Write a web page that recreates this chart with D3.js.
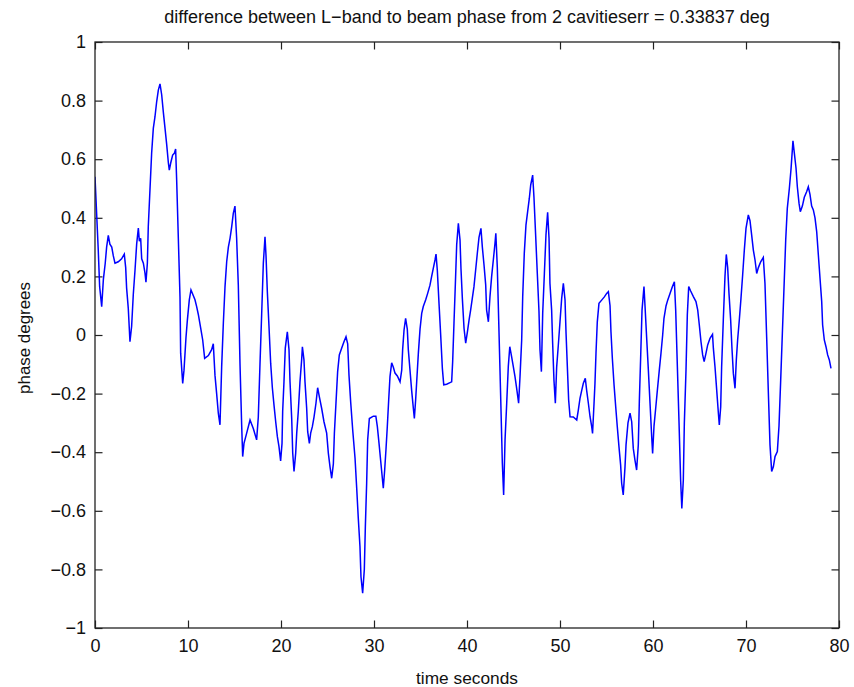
<!DOCTYPE html>
<html>
<head>
<meta charset="utf-8">
<script src="https://cdn.jsdelivr.net/npm/d3@7"></script>
<style>
  html, body { margin: 0; padding: 0; background: #ffffff; }
  svg { display: block; }
  text { font-family: "Liberation Sans", Arial, Helvetica, sans-serif; fill: #111; }
</style>
</head>
<body>
<svg id="chart" width="854" height="687"></svg>
<script>
// ---- data ----
const titleText = "difference between L\u2212band to beam phase from 2 cavitieserr = 0.33837 deg";
const xLabelText = "time seconds";
const yLabelText = "phase degrees";

const xTicks = [0, 10, 20, 30, 40, 50, 60, 70, 80];
const xTickLabels = ["0", "10", "20", "30", "40", "50", "60", "70", "80"];
const yTicks = [-1, -0.8, -0.6, -0.4, -0.2, 0, 0.2, 0.4, 0.6, 0.8, 1];
const yTickLabels = ["\u22121", "\u22120.8", "\u22120.6", "\u22120.4", "\u22120.2", "0", "0.2", "0.4", "0.6", "0.8", "1"];

const times = [
  0, 0.35, 0.5, 0.72, 0.9, 1.1, 1.25, 1.43, 1.6, 1.8, 1.97, 2.15, 2.5, 2.86, 3.15, 3.3, 3.4, 3.58, 3.76, 3.94,
  4.12, 4.3, 4.48, 4.66, 4.77, 4.91, 5.02, 5.2, 5.38, 5.48, 5.63, 5.73, 5.91, 6.09, 6.27, 6.45, 6.63, 6.81, 6.99, 7.17,
  7.35, 7.53, 7.71, 7.89, 7.99, 8.14, 8.35, 8.53, 8.67, 8.78, 8.96, 9.14, 9.21, 9.43, 9.57, 9.78, 9.93, 10.14, 10.32, 10.5,
  10.75, 10.93, 11.11, 11.36, 11.58, 11.79, 12.19, 12.54, 12.72, 12.9, 13.08, 13.26, 13.44, 13.62, 13.8, 13.98, 14.16, 14.34, 14.52, 14.7,
  14.87, 15.05, 15.23, 15.41, 15.59, 15.77, 15.88, 16.02, 16.31, 16.67, 17.03, 17.38, 17.56, 17.74, 17.92, 18.1, 18.28,
  18.39, 18.53, 18.71, 18.89, 19.07, 19.25, 19.43, 19.61, 19.78, 19.96, 20.11, 20.18, 20.32, 20.46, 20.68, 20.86, 20.97, 21.15, 21.26, 21.4,
  21.58, 21.69, 21.86, 22.04, 22.22, 22.3, 22.47, 22.58, 22.76, 22.87, 23.05, 23.19, 23.37, 23.55, 23.76, 23.94, 24.12, 24.37, 24.62, 24.91,
  25.09, 25.27, 25.45, 25.63, 25.74, 25.91, 26.09, 26.27, 26.52, 26.77, 26.99, 27.17, 27.31, 27.49, 27.71, 27.96, 28.14, 28.31, 28.49, 28.6,
  28.78, 28.96, 29.07, 29.21, 29.32, 29.5, 29.93, 30.2, 30.36, 30.54, 30.72, 31.0, 31.15, 31.29, 31.43, 31.58, 31.72, 31.9, 32.08, 32.26,
  32.51, 32.8, 32.98, 33.08, 33.23, 33.4, 33.58, 33.69, 33.87, 34.05, 34.23, 34.34, 34.48, 34.59, 34.77, 34.95, 35.13, 35.3, 35.56, 35.77,
  36.02, 36.2, 36.38, 36.56, 36.67, 36.81, 36.99, 37.17, 37.35, 37.5,
  37.81, 38.35, 38.46, 38.6, 38.75, 38.89, 39.07, 39.25, 39.35, 39.5, 39.68, 39.86, 40.04, 40.22, 40.39, 40.57, 40.75, 40.93, 41.11, 41.29,
  41.5, 41.65, 41.83, 42.01, 42.11, 42.3, 42.47, 42.65, 42.83, 43.01, 43.1, 43.26, 43.44, 43.62, 43.8, 43.94, 44.09, 44.27, 44.44, 44.6,
  44.8, 44.98, 45.16, 45.34, 45.55, 45.7, 45.88, 45.99, 46.16, 46.34, 46.52, 46.7, 46.85, 47.06, 47.2, 47.38, 47.56, 47.74, 47.85, 48.0,
  48.14, 48.32, 48.49, 48.67, 48.82, 48.92, 49.1, 49.21, 49.35, 49.5, 49.64, 49.82, 50.0, 50.18, 50.36, 50.54, 50.65, 50.79, 50.93, 51.08,
  51.43, 51.8, 51.97, 52.15, 52.33, 52.51, 52.72, 52.87, 53.05, 53.23, 53.41, 53.5, 53.66, 53.76, 53.87, 54.01, 54.19, 54.48, 54.77, 55.02,
  55.2, 55.38, 55.48, 55.63, 55.81, 55.99, 56.16, 56.34, 56.52, 56.63, 56.8,
  56.99, 57.1, 57.31, 57.53, 57.71, 57.88, 58.06, 58.24, 58.42, 58.53, 58.68, 58.82, 59.03, 59.14, 59.32, 59.5, 59.68, 59.86, 59.96, 60.11,
  60.29, 60.47, 60.68, 60.86, 61.04, 61.18, 61.4, 61.58, 61.83, 62.08, 62.3, 62.44, 62.62, 62.8, 62.97, 63.1, 63.26, 63.37, 63.55, 63.69,
  63.84, 64.05, 64.34, 64.62, 64.81, 64.98, 65.16, 65.34, 65.5, 65.7, 65.88, 66.13, 66.4, 66.49, 66.67, 66.85, 67.03, 67.13, 67.28, 67.38,
  67.56, 67.74, 67.88, 68.03, 68.17, 68.35, 68.49, 68.64, 68.82, 68.96, 69.1, 69.28, 69.46, 69.64, 69.82, 70.0, 70.25, 70.43, 70.61, 70.79,
  70.97, 71.15, 71.33, 71.58, 71.86, 72.04, 72.22, 72.4, 72.58, 72.76, 72.94, 73.12, 73.37, 73.55, 73.73, 73.91, 74.09, 74.27, 74.44, 74.66,
  74.84, 75.05, 75.2, 75.38, 75.52, 75.7, 75.84, 76.06, 76.27, 76.52, 76.7, 76.88, 77.06, 77.24, 77.42, 77.6, 77.78, 77.96, 78.14, 78.24,
  78.42, 78.6, 78.78, 78.96, 79.14
];

const phase = [
  0.54, 0.29, 0.165, 0.097, 0.19, 0.245, 0.30, 0.34, 0.31, 0.30, 0.27, 0.245, 0.25, 0.26, 0.276, 0.23, 0.16, 0.09, -0.023, 0.03,
  0.14, 0.22, 0.31, 0.365, 0.32, 0.33, 0.26, 0.245, 0.21, 0.18, 0.245, 0.37, 0.495, 0.62, 0.705, 0.745, 0.796, 0.836, 0.857, 0.82,
  0.76, 0.705, 0.65, 0.587, 0.563, 0.587, 0.614, 0.62, 0.635, 0.53, 0.33, 0.13, -0.062, -0.165, -0.12, -0.01, 0.05, 0.12, 0.154, 0.14,
  0.12, 0.097, 0.07, 0.024, -0.017, -0.08, -0.07, -0.05, -0.03, -0.137, -0.2, -0.267, -0.307, -0.108, 0.04, 0.165, 0.25, 0.30, 0.33, 0.37,
  0.415, 0.44, 0.33, 0.17, -0.097, -0.307, -0.415, -0.37, -0.335, -0.29, -0.32, -0.358, -0.28, -0.1, 0.07, 0.245, 0.335,
  0.27, 0.148, 0.028, -0.097, -0.18, -0.24, -0.296, -0.347, -0.38, -0.43, -0.37, -0.26, -0.16, -0.045, 0.011, -0.05, -0.16, -0.285, -0.403, -0.466,
  -0.403, -0.335, -0.26, -0.16, -0.085, -0.04, -0.085, -0.16, -0.25, -0.33, -0.37, -0.335, -0.313, -0.28, -0.233, -0.18, -0.21, -0.25, -0.296, -0.335,
  -0.403, -0.45, -0.489, -0.44, -0.335, -0.233, -0.125, -0.068, -0.045, -0.023, -0.006, -0.03, -0.137, -0.228, -0.324, -0.42, -0.523, -0.625, -0.722, -0.825,
  -0.881, -0.80, -0.654, -0.506, -0.358, -0.285, -0.277, -0.277, -0.313, -0.37, -0.43, -0.523, -0.46, -0.39, -0.313, -0.222, -0.142, -0.095, -0.11, -0.13,
  -0.14, -0.16, -0.12, -0.05, 0.017, 0.057, 0.02, -0.05, -0.12, -0.19, -0.25, -0.285, -0.22, -0.16, -0.062, 0.02, 0.074, 0.097, 0.12, 0.142,
  0.17, 0.2, 0.228, 0.256, 0.276, 0.22, 0.108, 0.0, -0.114, -0.17,
  -0.168, -0.16, -0.09, 0.04, 0.176, 0.307, 0.381, 0.324, 0.228, 0.125, 0.023, -0.028, 0.01, 0.051, 0.085, 0.125, 0.165, 0.222, 0.279, 0.333,
  0.364, 0.30, 0.239, 0.171, 0.085, 0.045, 0.131, 0.2, 0.256, 0.313, 0.347, 0.23, 0.011, -0.21, -0.438, -0.546, -0.358, -0.233, -0.108, -0.04,
  -0.075, -0.108, -0.142, -0.182, -0.233, -0.142, -0.017, 0.131, 0.279, 0.375, 0.421, 0.466, 0.512, 0.546, 0.47, 0.341, 0.21, 0.08, -0.051, -0.125,
  0.074, 0.21, 0.341, 0.419, 0.33, 0.176, 0.085, -0.028, -0.154, -0.233, -0.11, -0.034, 0.045, 0.125, 0.176, 0.12, 0.006, -0.108, -0.222, -0.279,
  -0.28, -0.29, -0.256, -0.216, -0.19, -0.165, -0.148, -0.19, -0.233, -0.279, -0.313, -0.336, -0.233, -0.165, -0.062, 0.045, 0.108, 0.119, 0.13, 0.142,
  0.148, 0.1, 0.011, -0.08, -0.17, -0.245, -0.313, -0.381, -0.444, -0.506, -0.546,
  -0.45, -0.375, -0.30, -0.267, -0.296, -0.387, -0.427, -0.461, -0.375, -0.228, -0.068, 0.085, 0.165, 0.1, -0.011, -0.119, -0.233, -0.347, -0.404, -0.31,
  -0.25, -0.188, -0.119, -0.062, 0.0, 0.057, 0.099, 0.119, 0.142, 0.165, 0.182, 0.085, -0.108, -0.30, -0.495, -0.592, -0.495, -0.30, -0.119, 0.068,
  0.165, 0.15, 0.131, 0.114, 0.085, 0.034, -0.023, -0.068, -0.091, -0.062, -0.034, -0.011, 0.002, -0.045, -0.11, -0.188, -0.267, -0.307, -0.245, -0.108,
  0.051, 0.2, 0.275, 0.23, 0.142, 0.051, -0.045, -0.131, -0.182, -0.085, -0.017, 0.051, 0.125, 0.205, 0.29, 0.364, 0.41, 0.39, 0.341, 0.29,
  0.256, 0.21, 0.23, 0.25, 0.265, 0.176, -0.006, -0.193, -0.375, -0.466, -0.45, -0.415, -0.398, -0.31, -0.154, 0.006, 0.165, 0.324, 0.432, 0.5,
  0.566, 0.663, 0.62, 0.569, 0.506, 0.45, 0.421, 0.44, 0.47, 0.489, 0.506, 0.48, 0.44, 0.427, 0.40, 0.353, 0.273, 0.193, 0.114, 0.034,
  -0.017, -0.04, -0.068, -0.085, -0.114
];

// ---- layout ----
const W = 854, H = 687;
const plot = { left: 95, right: 839, top: 42, bottom: 628 };
const tickLen = 7.5;

const svg = d3.select("#chart");
svg.append("rect").attr("x", 0).attr("y", 0).attr("width", W).attr("height", H).attr("fill", "#ffffff");

const x = d3.scaleLinear().domain([0, 80]).range([plot.left, plot.right]);
const y = d3.scaleLinear().domain([-1, 1]).range([plot.bottom, plot.top]);

const axisColor = "#222";

// bottom axis with labels (ticks inward)
const gx = svg.append("g").attr("transform", `translate(0,${plot.bottom})`)
  .call(d3.axisBottom(x).tickValues(xTicks).tickFormat((d, i) => xTickLabels[i])
    .tickSizeInner(-tickLen).tickSizeOuter(0).tickPadding(11));
// left axis with labels
const gy = svg.append("g").attr("transform", `translate(${plot.left},0)`)
  .call(d3.axisLeft(y).tickValues(yTicks).tickFormat((d, i) => yTickLabels[i])
    .tickSizeInner(-tickLen).tickSizeOuter(0).tickPadding(9));
// top and right mirror ticks
const gxt = svg.append("g").attr("transform", `translate(0,${plot.top})`)
  .call(d3.axisTop(x).tickValues(xTicks).tickFormat("").tickSizeInner(-tickLen).tickSizeOuter(0));
const gyr = svg.append("g").attr("transform", `translate(${plot.right},0)`)
  .call(d3.axisRight(y).tickValues(yTicks).tickFormat("").tickSizeInner(-tickLen).tickSizeOuter(0));

[gx, gy, gxt, gyr].forEach(g => {
  g.select(".domain").remove();
  g.selectAll(".tick line").attr("stroke", axisColor).attr("stroke-width", 1.2);
  g.selectAll(".tick text").attr("font-size", 18).attr("fill", "#111")
    .attr("font-family", '"Liberation Sans", Arial, Helvetica, sans-serif');
});

// data line (clipped to the axes box)
svg.append("clipPath").attr("id", "clip").append("rect")
  .attr("x", plot.left).attr("y", plot.top)
  .attr("width", plot.right - plot.left).attr("height", plot.bottom - plot.top);

const pts = times.map((t, i) => [t, phase[i]]);
svg.append("path")
  .datum(pts)
  .attr("clip-path", "url(#clip)")
  .attr("fill", "none")
  .attr("stroke", "#0000ff")
  .attr("stroke-width", 1.5)
  .attr("stroke-linejoin", "miter")
  .attr("d", d3.line().x(d => x(d[0])).y(d => y(d[1])));

// axes box
svg.append("rect")
  .attr("x", plot.left).attr("y", plot.top)
  .attr("width", plot.right - plot.left).attr("height", plot.bottom - plot.top)
  .attr("fill", "none").attr("stroke", axisColor).attr("stroke-width", 1.3);

// helper: fit text width by font size
function fitText(sel, targetWidth, baseSize) {
  sel.attr("font-size", baseSize);
  const w = sel.node().getComputedTextLength();
  if (w > 0) sel.attr("font-size", baseSize * targetWidth / w);
}

// title
const title = svg.append("text")
  .attr("x", (plot.left + plot.right) / 2).attr("y", 23)
  .attr("text-anchor", "middle").attr("fill", "#111")
  .text(titleText);
fitText(title, 606, 16);

// x label
const xl = svg.append("text")
  .attr("x", (plot.left + plot.right) / 2).attr("y", 684)
  .attr("text-anchor", "middle").attr("fill", "#111")
  .text(xLabelText);
fitText(xl, 102, 17);

// y label
const yl = svg.append("text")
  .attr("transform", `translate(30,${(plot.top + plot.bottom) / 2 + 3}) rotate(-90)`)
  .attr("text-anchor", "middle").attr("fill", "#111")
  .text(yLabelText);
fitText(yl, 112, 17);
</script>
</body>
</html>
